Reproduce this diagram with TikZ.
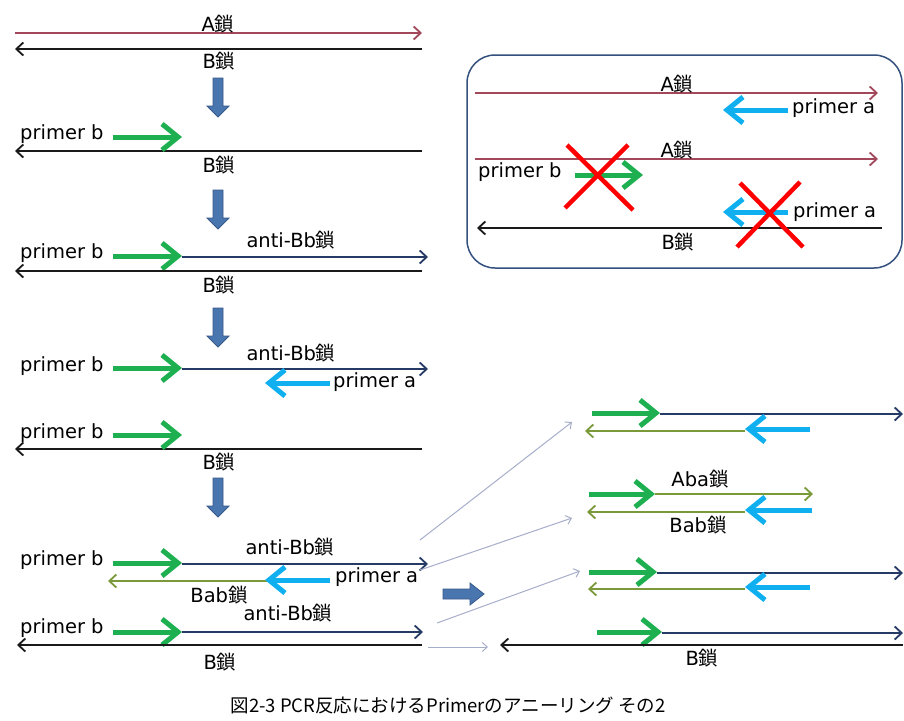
\documentclass[tikz,border=0pt]{standalone}
\usepackage{fontspec}
\setmainfont{DejaVu Sans}
\newfontfamily\cjk{Noto Sans CJK JP}
\usetikzlibrary{arrows.meta}
\newcommand{\sa}{{\cjk 鎖}}
\definecolor{strandred}{HTML}{A3485A}
\definecolor{strandblack}{HTML}{1A1A1A}
\definecolor{navy}{HTML}{253B65}
\definecolor{olive}{HTML}{7A9A3A}
\definecolor{pgreen}{HTML}{1EB050}
\definecolor{pcyan}{HTML}{10B0F0}
\definecolor{blockfill}{HTML}{4A76B0}
\definecolor{blockline}{HTML}{37598A}
\definecolor{boxline}{HTML}{34507E}
\definecolor{thinc}{HTML}{A7AEC9}
\newcommand{\downblock}[2]{\filldraw[blockarr] (#1-5,#2) -- (#1+5,#2) -- (#1+5,#2+28) -- (#1+11,#2+28) -- (#1,#2+39) -- (#1-11,#2+28) -- (#1-5,#2+28) -- cycle;}
\tikzset{
  strand/.style={line width=1.8pt, -{Straight Barb[length=7pt,width=13pt]}},
  sred/.style={strand, draw=strandred},
  sblack/.style={strand, draw=strandblack},
  snavy/.style={strand, draw=navy},
  solive/.style={strand, draw=olive},
  primer/.style={line width=5pt, -{Straight Barb[length=16pt,width=26pt]}},
  pb/.style={primer, draw=pgreen},
  pa/.style={primer, draw=pcyan},
  lab/.style={font=\fontsize{19.5}{20}\selectfont, inner sep=0pt},
  cross/.style={draw=red, line width=4.5pt},
  thinarr/.style={draw=thinc, line width=1pt, -{Straight Barb[length=5pt,width=9pt]}},
  blockarr/.style={fill=blockfill, draw=blockline, line width=0.8pt},
  panel/.style={draw=boxline, line width=1.5pt, rounded corners=28pt}
}
\begin{document}
\begin{tikzpicture}[x=1pt,y=-1pt]
\useasboundingbox[fill=white] (0,0) rectangle (904,720);
% ---- row 1
\draw[sred] (15,33) -- (422,33);
\node[lab] (a1) at (218,24) {A\sa};
\draw[sblack] (422,49) -- (15,49);
\node[lab] (b1) at (219,61) {B\sa};
\downblock{218}{78}
% ---- row 2
\node[lab,anchor=west] (pb2) at (20,134) {primer b};
\draw[sblack] (422,151) -- (15,151);
\draw[pb] (113,137) -- (182,137);
\node[lab] (b2) at (219,165) {B\sa};
\downblock{218}{190}
% ---- row 3
\node[lab] (ab3) at (291,240) {anti-Bb\sa};
\node[lab,anchor=west] (pb3) at (20,253) {primer b};
\draw[snavy] (182,257) -- (428,257);
\draw[pb] (113,256) -- (182,256);
\draw[sblack] (422,271) -- (15,271);
\node[lab] (b3) at (219,285) {B\sa};
\downblock{218}{308}
% ---- row 4
\node[lab] (ab4) at (291,353) {anti-Bb\sa};
\node[lab,anchor=west] (pb4) at (20,366) {primer b};
\draw[snavy] (182,369) -- (428,369);
\draw[pb] (113,368) -- (182,368);
\draw[pa] (330,383) -- (265,383);
\node[lab,anchor=west] (pa4) at (333,382) {primer a};
% ---- row 5
\node[lab,anchor=west] (pb5) at (20,433) {primer b};
\draw[sblack] (422,449) -- (15,449);
\draw[pb] (113,435) -- (182,435);
\node[lab] (b5) at (219,462) {B\sa};
\downblock{218}{478}
% ---- row 6
\node[lab] (ab6) at (290,547) {anti-Bb\sa};
\node[lab,anchor=west] (pb6) at (20,560) {primer b};
\draw[snavy] (182,564) -- (428,564);
\draw[pb] (113,563) -- (182,563);
\draw[solive] (267,581) -- (108,581);
\draw[pa] (330,580) -- (265,580);
\node[lab,anchor=west] (pa6) at (335,577) {primer a};
\node[lab] (bab6) at (219,595) {Bab\sa};
% ---- row 7
\node[lab] (ab7) at (288,613) {anti-Bb\sa};
\node[lab,anchor=west] (pb7) at (20,628) {primer b};
\draw[snavy] (182,632) -- (423,632);
\draw[pb] (113,632) -- (182,632);
\draw[sblack] (422,645) -- (17,645);
\node[lab] (b7) at (220,662) {B\sa};
% ---- panel
\draw[panel] (467,55) rectangle (902,268);
\draw[sred] (475,93) -- (878,93);
\node[lab] (pa1) at (677,84) {A\sa};
\draw[pa] (788,110) -- (723,110);
\node[lab,anchor=west] (ppa1) at (792,108) {primer a};
\draw[sred] (475,159) -- (878,159);
\node[lab] (pa2) at (677,150) {A\sa};
\node[lab,anchor=west] (ppb) at (478,172) {primer b};
\draw[pb] (575,175) -- (643,175);
\draw[pa] (788,212) -- (723,212);
\node[lab,anchor=west] (ppa2) at (793,212) {primer a};
\draw[sblack] (882,228) -- (477,228);
\node[lab] (pb1) at (678,242) {B\sa};
\draw[cross] (567,145) -- (633,210) (628,145) -- (565,208);
\draw[cross] (740,183) -- (803,247) (800,182) -- (737,247);
% ---- thin arrows and right block arrow
\coordinate (t1s) at (420,540); \coordinate (t1e) at (572,422);
\coordinate (t2s) at (420,570); \coordinate (t2e) at (572,518);
\coordinate (t3s) at (437,623); \coordinate (t3e) at (580,571);
\coordinate (t4s) at (428,647); \coordinate (t4e) at (488,647);
\draw[thinarr] (t1s) -- (t1e);
\draw[thinarr] (t2s) -- (t2e);
\draw[thinarr] (t3s) -- (t3e);
\draw[thinarr] (t4s) -- (t4e);
\filldraw[blockarr] (443,589) -- (470,589) -- (470,583) -- (484,594) -- (470,605) -- (470,599) -- (443,599) -- cycle;
% ---- group 1
\draw[snavy] (660,414) -- (903,414);
\draw[pb] (592,413) -- (660,413);
\draw[solive] (745,431) -- (585,431);
\draw[pa] (810,429) -- (745,429);
% ---- group 2
\node[lab] (aba) at (700,479) {Aba\sa};
\draw[solive] (655,494) -- (813,494);
\draw[pb] (589,494) -- (655,494);
\draw[solive] (745,512) -- (587,512);
\draw[pa] (812,510) -- (745,510);
\node[lab] (bab2) at (698,525) {Bab\sa};
% ---- group 3
\draw[snavy] (657,573) -- (903,573);
\draw[pb] (589,572) -- (657,572);
\draw[solive] (745,589) -- (588,589);
\draw[pa] (810,587) -- (745,587);
% ---- group 4
\draw[snavy] (662,633) -- (903,633);
\draw[pb] (597,632) -- (662,632);
\draw[sblack] (903,645) -- (500,645);
\node[lab] (b8) at (702,658) {B\sa};
% ---- caption
\node[font=\cjk\fontsize{18.5}{20}\selectfont, inner sep=0pt] (cap) at (448,705) {図2-3 PCR反応におけるPrimerのアニーリング その2};
\end{tikzpicture}
\end{document}
